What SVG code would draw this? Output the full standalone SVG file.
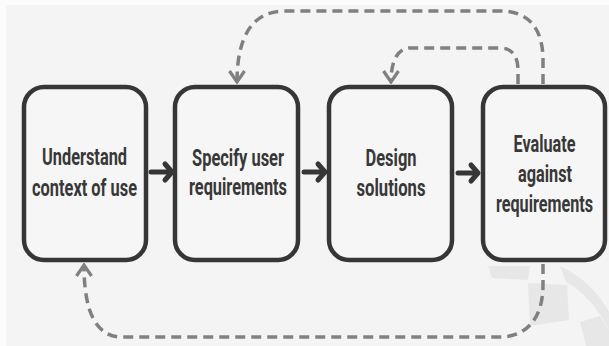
<svg xmlns="http://www.w3.org/2000/svg" width="609" height="346" viewBox="0 0 609 346">
  <style>
    .box { fill: #f6f6f6; stroke: #363636; stroke-width: 4.5; }
    .lbl { font-family: "Roboto", "Liberation Sans", sans-serif; font-weight: 700; font-size: 24px; fill: #383838; text-anchor: middle; }
    .flow { fill: none; stroke: #363636; stroke-width: 5; stroke-linecap: round; stroke-linejoin: round; }
    .loop { fill: none; stroke: #808080; stroke-width: 3.5; stroke-dasharray: 10 6; }
    .wm { fill: #e7e7e7; }
  </style>
  <defs>
    <marker id="chev" markerUnits="userSpaceOnUse" viewBox="-14 -10 16 20" markerWidth="16" markerHeight="20" refX="0" refY="0" orient="auto">
      <path d="M -11 -7.5 L 0 0 L -11 7.5" fill="none" stroke="#808080" stroke-width="3.2" stroke-linejoin="miter"/>
    </marker>
  </defs>

  <rect x="0" y="0" width="609" height="346" fill="#fbfbfb"/>
  <rect x="6" y="5" width="603" height="341" fill="#f4f4f4"/>

  <g id="watermark">
    <polygon class="wm" points="488,266 530,266 528,280 492,278"/>
    <polygon class="wm" points="528,283 567,285 569,320 530,326"/>
    <path class="wm" d="M 560 266 C 585 278, 600 295, 609 312 L 609 330 C 598 308, 582 290, 566 282 Z"/>
    <polygon class="wm" points="580,322 600,316 609,330 609,346 586,346"/>
  </g>

  <g id="connectors">
    <g id="flow-arrows">
      <line class="flow" x1="151" y1="172" x2="171" y2="172"/>
      <polyline class="flow" points="165,164 172,172 165,180"/>
      <line class="flow" x1="304" y1="172" x2="324" y2="172"/>
      <polyline class="flow" points="318,164 325,172 318,180"/>
      <line class="flow" x1="458" y1="173" x2="477" y2="173"/>
      <polyline class="flow" points="471,165 478,173 471,181"/>
    </g>
    <path id="loop-outer" class="loop" marker-end="url(#chev)" d="M 543 84 L 543 60 C 543 30, 530 11, 500 11 L 285 11 C 250 11, 237 40, 237 82"/>
    <path id="loop-inner" class="loop" marker-end="url(#chev)" d="M 518 84 L 518 70 C 518 56, 512 48, 500 48 L 410 48 C 398 48, 391 60, 391 82"/>
    <path id="loop-bottom" class="loop" marker-end="url(#chev)" d="M 543 264 L 543 285 C 543 320, 525 337, 500 337 L 122 337 C 96 337, 84 312, 84 265"/>
  </g>

  <g id="node-understand">
    <rect class="box" x="24" y="87" width="122" height="173" rx="20" ry="20"/>
    <text class="lbl" x="84.5" y="165" textLength="85" lengthAdjust="spacingAndGlyphs">Understand</text>
    <text class="lbl" x="84.5" y="196" textLength="105" lengthAdjust="spacingAndGlyphs">context of use</text>
  </g>

  <g id="node-specify">
    <rect class="box" x="175" y="87" width="123" height="173" rx="20" ry="20"/>
    <text class="lbl" x="238" y="166" textLength="92" lengthAdjust="spacingAndGlyphs">Specify user</text>
    <text class="lbl" x="238" y="195" textLength="98" lengthAdjust="spacingAndGlyphs">requirements</text>
  </g>

  <g id="node-design">
    <rect class="box" x="329" y="87" width="123" height="173" rx="20" ry="20"/>
    <text class="lbl" x="391" y="166" textLength="51" lengthAdjust="spacingAndGlyphs">Design</text>
    <text class="lbl" x="391" y="196" textLength="69" lengthAdjust="spacingAndGlyphs">solutions</text>
  </g>

  <g id="node-evaluate">
    <rect class="box" x="483" y="87" width="122" height="173" rx="20" ry="20"/>
    <text class="lbl" x="544.5" y="152" textLength="62" lengthAdjust="spacingAndGlyphs">Evaluate</text>
    <text class="lbl" x="545" y="182" textLength="54" lengthAdjust="spacingAndGlyphs">against</text>
    <text class="lbl" x="544.5" y="212" textLength="97" lengthAdjust="spacingAndGlyphs">requirements</text>
  </g>
</svg>
